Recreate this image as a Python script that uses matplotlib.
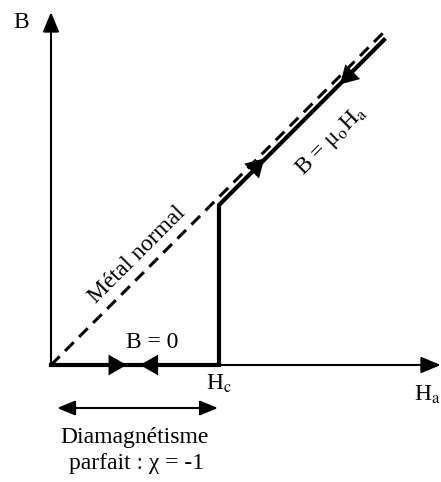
import matplotlib.pyplot as plt

plt.rcParams['font.family'] = ['Liberation Serif', 'DejaVu Serif']
plt.rcParams['mathtext.fontset'] = 'stix'

# grandeurs réduites : H / Hc et B / (mu0 Hc)
Hc = 1.0
H_max = 2.32
B_max = 2.10
H_normal = [0.0, 2.006]          # droite du métal normal B = mu0 H
B_normal = [0.0, 2.006]
H_supra = [0.0, Hc, Hc, 1.982]   # chemin suivi par le supraconducteur
B_supra = [0.0, 0.0, 0.952, 1.935]

fig = plt.figure(figsize=(4.41, 4.82), dpi=100)
ax = fig.add_axes([0, 0, 1, 1])
ax.set_xlim(-51 / 168, 390 / 168)
ax.set_ylim(-117 / 168, 365 / 168)
ax.axis('off')

fleche = dict(arrowstyle='-|>,head_length=1.2,head_width=0.5', color='black',
              lw=1.5, shrinkA=0, shrinkB=0)

# axes
ax.annotate('', xy=(0, B_max), xytext=(0, 0), arrowprops=fleche)
ax.annotate('', xy=(H_max, 0), xytext=(0, 0), arrowprops=fleche)

# droite métal normal
ax.plot(H_normal, B_normal, color='black', lw=2.2, ls=(0, (4, 2.5)))

# chemin supra
ax.plot(H_supra, B_supra, color='black', lw=3, solid_joinstyle='miter')

# flèches sur les tracés
tete = dict(arrowstyle='-|>,head_length=1.3,head_width=0.75', color='black',
            lw=0, shrinkA=0, shrinkB=0)
ax.annotate('', xy=(0.45, 0), xytext=(0.33, 0), arrowprops=tete)
ax.annotate('', xy=(0.53, 0), xytext=(0.65, 0), arrowprops=tete)
ax.annotate('', xy=(1.27, 1.23), xytext=(1.18, 1.14), arrowprops=tete)
ax.annotate('', xy=(1.72, 1.67), xytext=(1.81, 1.76), arrowprops=tete)

# double flèche diamagnétisme
double = dict(arrowstyle='<|-|>,head_length=1.1,head_width=0.45', color='black',
              lw=1.5, shrinkA=0, shrinkB=0)
ax.annotate('', xy=(0.994, -0.256), xytext=(0.036, -0.256), arrowprops=double)

fs = 17
ax.text(-0.18, 2.04, 'B', fontsize=fs, ha='center', va='center')
ax.text(1.0, -0.11, r'H$_\mathrm{c}$', fontsize=fs, ha='center', va='center')
ax.text(2.16, -0.18, r'H$_\mathrm{a}$', fontsize=fs, ha='left', va='center')
ax.text(0.60, 0.135, 'B = 0', fontsize=fs, ha='center', va='center')
ax.text(0.512, 0.655, 'Métal normal', fontsize=fs, ha='center', va='center',
        rotation=45, rotation_mode='anchor')
ax.text(1.667, 1.333, r'B = μ$_\mathrm{o}$H$_\mathrm{a}$', fontsize=fs,
        ha='center', va='center', rotation=45, rotation_mode='anchor')
ax.text(0.50, -0.43, 'Diamagnétisme', fontsize=fs, ha='center', va='center')
ax.text(0.51, -0.585, 'parfait : χ = -1', fontsize=fs, ha='center',
        va='center')

fig.savefig('out.png', dpi=100)
